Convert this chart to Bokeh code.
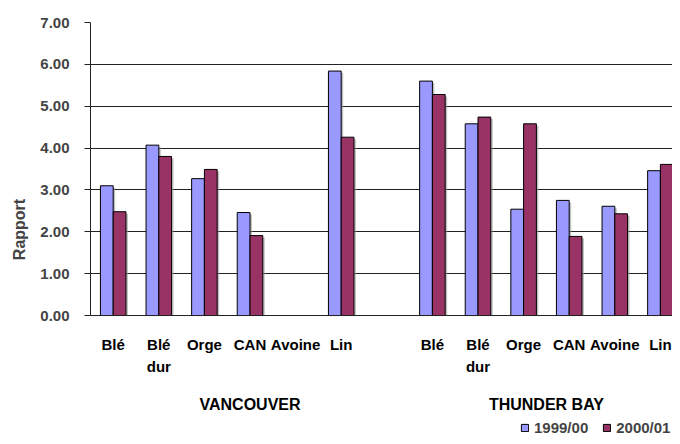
from bokeh.plotting import figure
from bokeh.models import (ColumnDataSource, FixedTicker, Legend, LegendItem,
                          NumeralTickFormatter, Range1d, Span)
from bokeh.core.properties import value
from bokeh.embed import file_html
from bokeh.resources import INLINE

categories = ["Blé", "Blé\ndur", "Orge", "CAN", "Avoine", "Lin", "",
              "Blé", "Blé\ndur", "Orge", "CAN", "Avoine", "Lin"]
v1999 = [3.10, 4.07, 3.27, 2.46, None, 5.84, None, 5.60, 4.58, 2.54, 2.75, 2.61, 3.46]
v2000 = [2.48, 3.80, 3.49, 1.91, None, 4.26, None, 5.28, 4.74, 4.58, 1.89, 2.43, 3.61]
groups = ["VANCOUVER", "THUNDER BAY"]
group_pos = [3.0, 9.5]
series = ["1999/00", "2000/01"]
colors = ["#9999FF", "#993366"]
y_ticks = [0, 1, 2, 3, 4, 5, 6, 7]

FONT = "Liberation Sans"
PX_PER_UNIT = 41.86   # vertical pixels per unit
SLOT = 45.6           # horizontal pixels per category

def ypx(px):
    """offset in data units for a pixel distance below the baseline (0)"""
    return -px / PX_PER_UNIT

idx = list(range(len(categories)))
bw = 0.28
x1 = [i - bw / 2 for i in idx]
x2 = [i + bw / 2 for i in idx]
t1 = [v if v is not None else float("nan") for v in v1999]
t2 = [v if v is not None else float("nan") for v in v2000]

W, H = 672, 436
left, top = 90, 22
x0 = -22.7 / SLOT
x_end = x0 + (W - left) / SLOT
y_start = 7 - (H - top) / PX_PER_UNIT

p = figure(width=W, height=H, output_backend="svg", toolbar_location=None,
           x_range=Range1d(x0, x_end), y_range=Range1d(y_start, 7),
           min_border_left=left, min_border_top=top, min_border_right=0, min_border_bottom=0)
p.outline_line_color = None
p.background_fill_color = "white"
p.border_fill_color = "white"
p.xaxis.visible = False
p.xgrid.visible = False

# grid
p.ygrid.ticker = FixedTicker(ticks=y_ticks[1:])
p.ygrid.grid_line_color = "#222222"
p.ygrid.grid_line_width = 1

# shadows
dx, dy = 2.0 / SLOT, 2.0 / PX_PER_UNIT
src_s = ColumnDataSource(dict(x=[x + dx for x in x1 + x2], top=[t - dy for t in t1 + t2]))
p.vbar(x="x", top="top", bottom=0, width=bw, source=src_s,
       fill_color="#999999", fill_alpha=0.6, line_color=None)

r1 = p.vbar(x=x1, top=t1, bottom=0, width=bw, fill_color=colors[0], line_color="black", line_width=1)
r2 = p.vbar(x=x2, top=t2, bottom=0, width=bw, fill_color=colors[1], line_color="black", line_width=1)

# baseline (category axis line)
p.add_layout(Span(location=0, dimension="width", line_color="#222222", line_width=1))

# y axis
ya = p.yaxis[0]
ya.bounds = (0, 7)
ya.ticker = FixedTicker(ticks=y_ticks)
ya.formatter = NumeralTickFormatter(format="0.00")
ya.axis_label = "Rapport"
ya.axis_label_text_font = FONT
ya.axis_label_text_font_style = "bold"
ya.axis_label_text_font_size = "16px"
ya.axis_label_standoff = 9
ya.major_label_text_font = FONT
ya.major_label_text_font_style = "bold"
ya.major_label_text_font_size = "15px"
ya.major_label_standoff = 15
ya.major_tick_out = 6
ya.major_tick_in = 0
ya.minor_tick_out = 0
ya.minor_tick_in = 0
ya.axis_line_color = "#222222"
ya.major_tick_line_color = "#222222"

# category labels
p.text(x=idx, y=[ypx(20)] * len(idx), text=categories,
       text_align="center", text_baseline="top", text_font=value(FONT),
       text_font_style="bold", text_font_size="15px", text_line_height=1.3,
       text_color="black")

# group labels
p.text(x=group_pos, y=[ypx(89)] * len(group_pos), text=groups,
       text_align="center", text_baseline="alphabetic", text_font=value(FONT),
       text_font_style="bold", text_font_size="16px", text_color="black")

legend = Legend(items=[LegendItem(label=series[0], renderers=[r1]),
                       LegendItem(label=series[1], renderers=[r2])],
                orientation="horizontal", location=(430, 0),
                label_text_font=FONT, label_text_font_style="bold", label_text_font_size="15px",
                glyph_width=9, glyph_height=9, label_standoff=5, spacing=14,
                padding=0, margin=0, border_line_color=None, background_fill_alpha=0)
p.add_layout(legend, "center")

open("out.html", "w").write(file_html(p, INLINE))
